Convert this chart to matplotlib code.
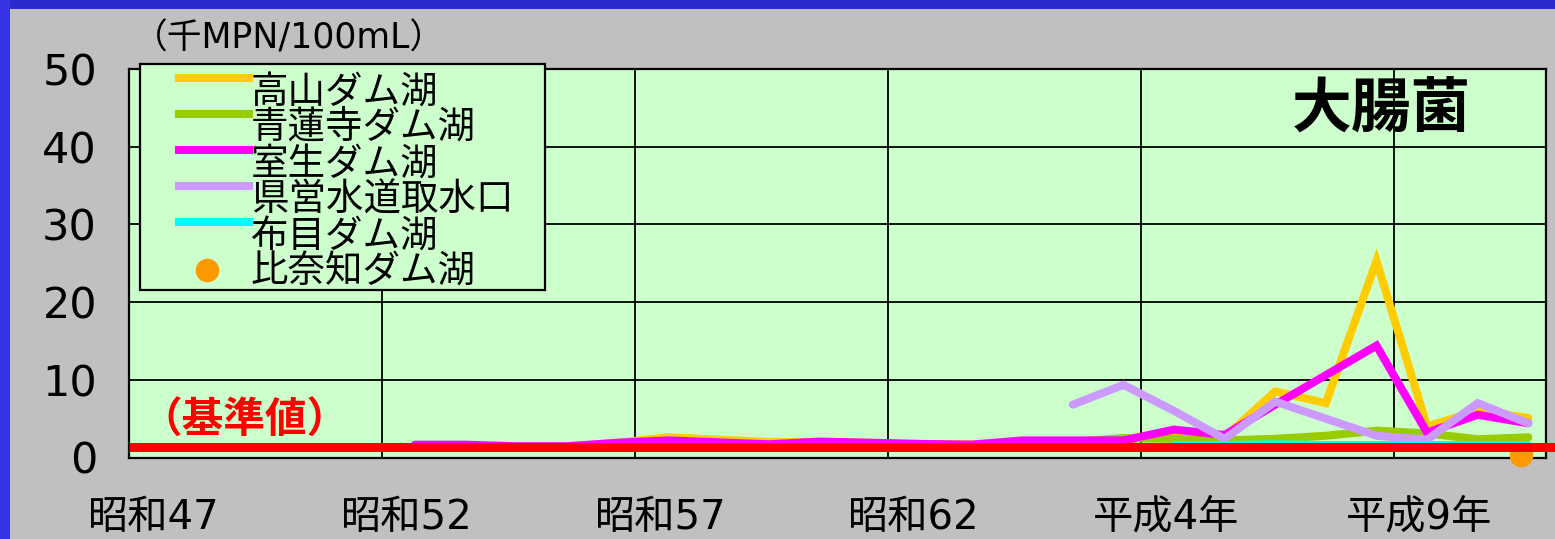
import numpy as np
import matplotlib.pyplot as plt
from matplotlib.lines import Line2D
from matplotlib.patches import Rectangle

plt.rcParams['font.family'] = ['DejaVu Sans', 'Noto Sans CJK JP']

W, H = 1555, 539

# 年度 (昭和47〜平成11)
years = np.arange(1972, 2000)
tick_years = [1972, 1977, 1982, 1987, 1992, 1997]
tick_labels = ['昭和47', '昭和52', '昭和57', '昭和62', '平成4年', '平成9年']

# 大腸菌群数 (千MPN/100mL)
takayama_years = np.arange(1977, 2000)
takayama = [1.6, 1.6, 1.4, 1.4, 1.9, 2.6, 2.3, 2.0, 2.0, 1.9, 1.7, 1.7,
            2.1, 2.1, 2.1, 3.3, 2.6, 8.5, 7.0, 25.3, 4.0, 6.0, 5.1]
shorenji_years = np.arange(1977, 2000)
shorenji = [1.3, 1.3, 1.3, 1.3, 1.5, 1.8, 1.7, 1.5, 1.6, 1.6, 1.5, 1.5,
            1.9, 2.0, 2.5, 2.4, 2.2, 2.4, 2.8, 3.45, 3.1, 2.35, 2.6]
murou_years = np.arange(1977, 2000)
murou = [1.65, 1.65, 1.45, 1.45, 1.9, 2.2, 1.95, 1.7, 2.05, 1.9, 1.75, 1.65,
         2.2, 2.2, 2.2, 3.6, 2.9, 6.8, 10.6, 14.4, 3.2, 5.5, 4.4]
kenei_years = np.arange(1990, 2000)
kenei = [6.8, 9.35, 6.0, 2.4, 7.2, 5.0, 2.8, 2.3, 7.0, 4.4]
nunome_years = np.arange(1992, 2000)
nunome = [1.6, 1.6, 1.7, 1.6, 1.6, 1.6, 1.6, 1.6]
hinachi_years = [1999]
hinachi = [0.3]

base_value = 1.3

names = ['高山ダム湖', '青蓮寺ダム湖', '室生ダム湖', '県営水道取水口', '布目ダム湖', '比奈知ダム湖']
colors = ['#FFCC00', '#99CC00', '#FF00FF', '#CC99FF', '#00FFFF', '#FF9900']

# lines sit a little to the right inside each year slot
LINE_SHIFT = 0.15


def fxy(px, py):
    return px / W, 1 - py / H


fig = plt.figure(figsize=(W / 100, H / 100), dpi=100, facecolor='#C0C0C0')
fig.add_artist(Rectangle((0, 1 - 9 / H), 1, 9 / H, transform=fig.transFigure,
                         fc='#2C2ACB', ec='none'))
fig.add_artist(Rectangle((0, 0), 10 / W, 1, transform=fig.transFigure,
                         fc='#3434E4', ec='none'))

ax = fig.add_axes([129 / W, 1 - 457.5 / H, 1417 / W, 388.5 / H], facecolor='#CCFFCC')

series = [(takayama_years, takayama), (shorenji_years, shorenji),
          (murou_years, murou), (kenei_years, kenei), (nunome_years, nunome)]
for (xs, ys), c in zip(series, colors):
    ax.plot(np.asarray(xs) + LINE_SHIFT, ys, color=c, lw=5.8,
            solid_capstyle='round', solid_joinstyle='miter', zorder=3)
ax.plot(hinachi_years, hinachi, 'o', color=colors[5], ms=17, mec='none',
        clip_on=False, zorder=4)

# 基準値
ax.axhline(base_value, xmin=0, xmax=1.007, color='#FF0000', lw=6.5,
           solid_capstyle='butt', clip_on=False, zorder=5)
fig.text(*fxy(244, 421), '（基準値）', color='#FF0000', fontsize=30,
         fontweight='bold', family='Noto Sans CJK JP', ha='center', va='center')

ax.set_xlim(1971.5, 1999.5)
ax.set_ylim(0, 50)
ax.set_yticks(range(0, 51, 10))
ax.set_xticks(tick_years)
ax.set_xticklabels(tick_labels)
ax.set_xticks(np.arange(1976.5, 1999, 5), minor=True)
ax.tick_params(axis='y', length=0, labelsize=31, pad=23)
ax.tick_params(axis='x', which='both', length=0, labelsize=29, pad=29)
ax.grid(axis='y', color='black', lw=1.3)
ax.grid(axis='x', which='minor', color='black', lw=1.3)
ax.set_axisbelow(True)
for s in ax.spines.values():
    s.set_linewidth(1.6)

fig.text(*fxy(289, 38), '（千MPN/100mL）', fontsize=25, ha='center', va='center')
fig.text(*fxy(1381, 110), '大腸菌', fontsize=43, fontweight='bold',
         family='Noto Sans CJK JP', ha='center', va='center')

# legend box
fig.add_artist(Rectangle(fxy(140, 290), 405 / W, 226 / H, transform=fig.transFigure,
                         fc='#CCFFCC', ec='black', lw=1.6))
row_y = [78, 114, 150, 186, 222]
for name, c, y in zip(names[:5], colors[:5], row_y):
    fig.add_artist(Line2D([179 / W, 249 / W], [1 - y / H] * 2,
                          transform=fig.transFigure, color=c, lw=5.8))
    fig.text(*fxy(251, y + 14), name, fontsize=27, family='Noto Sans CJK JP',
             ha='left', va='center')
fig.add_artist(Line2D([207 / W], [1 - 270 / H], transform=fig.transFigure,
                      marker='o', ms=17, color=colors[5], mec='none', ls='none'))
fig.text(*fxy(251, 272), names[5], fontsize=27, family='Noto Sans CJK JP',
         ha='left', va='center')

fig.savefig('out.png', dpi=100, facecolor=fig.get_facecolor())
